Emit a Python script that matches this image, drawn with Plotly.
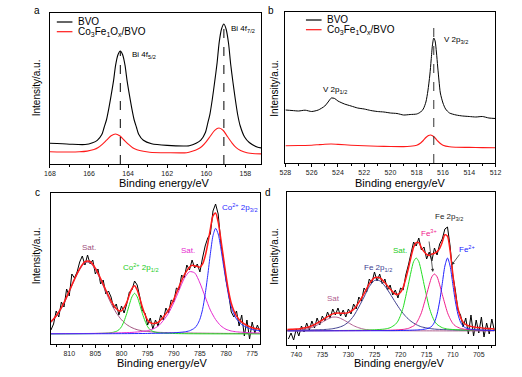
import plotly.graph_objects as go

FONT = "Liberation Sans, Arial, sans-serif"
W, H = 522, 377

# ---------------- Panel a : Bi 4f ----------------
a_bvo_x = [168.0, 167.0, 166.2, 165.82, 165.58, 165.34, 165.23, 165.11, 164.99, 164.87, 164.75, 164.64,
           164.52, 164.4, 164.28, 164.16, 164.05, 163.93, 163.81, 163.69, 163.57, 163.46, 163.22, 162.8,
           162.0, 161.0, 160.87, 160.52, 160.28, 160.04, 159.93, 159.81, 159.69, 159.57, 159.45, 159.34,
           159.22, 159.1, 158.98, 158.86, 158.75, 158.63, 158.51, 158.39, 158.27, 158.04, 157.8, 157.4,
           157.0]
a_bvo_y = [20.7, 19.8, 19.5, 21.3, 23.7, 29.8, 36.5, 44.0, 55.4, 68.6, 82.8, 98.8,
           109.2, 113.0, 109.2, 98.8, 82.8, 68.6, 55.4, 44.0, 36.5, 29.8, 23.7, 20.3,
           18.6, 18.0, 18.2, 20.7, 23.8, 31.8, 40.4, 50.2, 65.0, 82.2, 100.6, 121.6,
           135.0, 140.0, 134.5, 120.5, 99.5, 81.0, 64.0, 49.0, 38.5, 27.0, 21.5, 17.0,
           15.5]
a_cfo_x = [168.0, 167.0, 166.5, 166.1, 165.75, 165.53, 165.31, 165.09, 164.87, 164.65, 164.43, 164.21,
           163.99, 163.77, 163.55, 163.22, 162.9, 162.0, 161.0, 160.72, 160.45, 160.23, 160.01, 159.79,
           159.57, 159.35, 159.13, 158.91, 158.69, 158.47, 158.25, 157.92, 157.5, 157.0]
a_cfo_y = [12.3, 12.0, 12.2, 12.9, 14.5, 16.5, 19.9, 24.1, 28.2, 30.0, 28.2, 24.0,
           19.8, 16.3, 14.3, 12.7, 11.8, 11.3, 11.3, 12.7, 14.7, 17.5, 22.2, 28.0,
           33.7, 36.0, 33.5, 27.2, 21.2, 16.3, 13.5, 11.2, 10.3, 10.1]
a_ref_x = [164.4, 159.1]
a_ref_top = [113.0, 141.0]

# ---------------- Panel b : V 2p ----------------
b_bvo_x = [528.0, 527.5, 527.0, 526.5, 526.0, 525.5, 525.0, 524.75, 524.5, 524.25, 524.0, 523.5, 523.0,
           522.5, 522.0, 521.5, 521.0, 520.5, 520.0, 519.5, 519.0, 518.5, 518.0, 517.7, 517.5, 517.3,
           517.15, 517.0, 516.9, 516.8, 516.7, 516.6, 516.5, 516.4, 516.3, 516.2, 516.0, 515.8, 515.5,
           515.0, 514.5, 514.0, 513.5, 513.0, 512.5, 512.0]
b_bvo_y = [53, 52.5, 52, 52.8, 51.5, 53, 57, 61, 65, 64.5, 62, 59, 57,
           55, 54, 52.5, 51.5, 51, 50, 49.5, 48, 48.5, 49, 51, 54, 61,
           72, 88, 103, 118, 125, 122, 111, 96, 82, 70, 60, 54, 50,
           48, 47, 46.5, 46, 46.5, 45, 44.5]
b_cfo_x = [528, 527, 526, 525.5, 525, 524.5, 524, 523, 522, 521, 520, 519, 518.5, 518.0, 517.7,
           517.5, 517.3, 517.1, 516.95, 516.8, 516.6, 516.4, 516.2, 516.0, 515.5, 515, 514, 513, 512]
b_cfo_y = [17.3, 17.5, 17.8, 18.3, 18.8, 19, 18.6, 17.8, 17.2, 16.8, 16.5, 16.4, 16.8, 17.8, 20,
           22.5, 25.5, 27.5, 28, 27.3, 25, 22, 19.5, 17.8, 16.2, 15.8, 15.6, 15.4, 15.3]
b_ref_x = [516.7]
b_ref_top = [135.0]

# ---------------- Panel c : Co 2p ----------------
c_raw_x = [813.5, 813.0, 812.5, 812.0, 811.5, 811.0, 810.5, 810.0, 809.5, 809.0, 808.5, 808.0, 807.5,
           807.0, 806.5, 806.0, 805.5, 805.0, 804.5, 804.0, 803.5, 803.0, 802.5, 802.0, 801.5, 801.0,
           800.5, 800.0, 799.5, 799.0, 798.5, 798.0, 797.5, 797.0, 796.5, 796.0, 795.5, 795.0, 794.5,
           794.0, 793.5, 793.0, 792.5, 792.0, 791.5, 791.0, 790.5, 790.0, 789.5, 789.0, 788.5, 788.0,
           787.5, 787.0, 786.5, 786.0, 785.5, 785.0, 784.5, 784.0, 783.5, 783.0, 782.5, 782.0, 781.5,
           781.0, 780.5, 780.0, 779.5, 779.0, 778.5, 778.0, 777.5, 777.0, 776.5, 776.0, 775.5, 775.0,
           774.5, 774.0, 773.5]
c_raw_y = [14, 20, 33, 27, 42, 37, 55, 48, 70, 66, 72, 82, 88,
           79, 89, 80, 84, 70, 75, 60, 64, 50, 53, 47, 36, 40,
           29, 38, 31, 40, 52, 54, 63, 59, 47, 33, 31, 19, 26,
           15, 24, 18, 29, 24, 36, 31, 44, 42, 56, 54, 69, 66,
           79, 74, 84, 76, 80, 72, 86, 98, 106, 110, 133, 140, 130,
           101, 84, 64, 50, 32, 27, 33, 18, 29, 8, 24, 5, 22,
           11, 19, 12]
c_sat1_x = [814, 813, 812, 811, 810, 809, 808, 807, 806, 805, 804, 803, 802, 801, 800, 799, 798, 797,
            796, 795, 794, 793, 792, 791, 790, 789, 788, 787, 786, 785, 784, 783, 782, 781, 780, 779,
            778, 777, 776, 775, 774, 773]
c_sat1_y = [19.4, 24.2, 31.2, 40.6, 52.1, 64.0, 74.4, 81.3, 81.3, 74.4, 64.0, 52.1, 40.6, 31.2, 24.2,
            19.4, 16.3, 14.3, 13.2, 12.5, 12.1, 11.7, 11.5, 11.35, 11.25, 11.15, 11.05, 11.0, 10.9,
            10.85, 10.8, 10.75, 10.7, 10.65, 10.6, 10.58, 10.55, 10.52, 10.5, 10.48, 10.45, 10.43]
c_p12_x = [814, 806, 803, 802, 801, 800.5, 800, 799.5, 799, 798.5, 798, 797.5, 797, 796.5, 796,
           795.5, 795, 794.5, 794, 793, 792, 788, 773]
c_p12_y = [10.1, 10.4, 10.85, 11.3, 12.6, 14.2, 17.3, 23.0, 30.4, 39.3, 47.2, 50.7, 47.2, 39.3, 30.4,
           23.0, 17.3, 14.2, 12.6, 11.3, 10.85, 10.3, 10.1]
c_sat2_x = [814, 810, 806, 803, 800, 798, 796, 795, 794, 793, 792, 791, 790, 789, 788, 787, 786, 785,
            784, 783, 782, 781, 780, 779, 778, 777, 776, 775, 774, 773]
c_sat2_y = [10.3, 10.4, 10.55, 10.8, 11.2, 11.6, 12.5, 13.4, 15.0, 17.8, 23.5, 30.8, 41.3, 53.5, 65.5,
            72.3, 71.1, 61.0, 47.2, 33.9, 24.5, 18.2, 14.7, 13.0, 12.2, 11.75, 11.45, 11.25, 11.1, 11.0]
c_p32_x = [814, 805, 800, 795, 792, 790, 788, 787, 786, 785.5, 785, 784.5, 784, 783.5, 783, 782.5,
           782, 781.5, 781, 780.5, 780, 779.5, 779, 778.5, 778, 777, 776, 775, 774, 773]
c_p32_y = [10.15, 10.25, 10.35, 10.55, 10.85, 11.2, 12.1, 13.2, 16.0, 19.3, 24.8, 34.3, 49.6, 68.7,
           90.3, 108.3, 115.7, 110.0, 96.0, 79.0, 63.0, 48.0, 37.0, 30.0, 25.0, 19.5, 16.5, 14.5,
           13.5, 13.0]
c_fit_x = [814, 813, 812, 811, 810, 809, 808, 807, 806, 805, 804, 803, 802, 801, 800.5, 800, 799.5,
           799, 798.5, 798, 797.5, 797, 796.5, 796, 795.5, 795, 794.5, 794, 793, 792, 791, 790, 789,
           788, 787, 786.5, 786, 785.5, 785, 784.5, 784, 783.5, 783, 782.5, 782, 781.5, 781, 780.5,
           780, 779.5, 779, 778.5, 778, 777, 776, 775, 774, 773]
c_fit_y = [20.0, 24.9, 32.0, 41.4, 53.0, 64.9, 75.4, 82.3, 82.5, 75.8, 65.5, 54.0, 43.1, 35.2, 33.3,
           33.1, 36.5, 41.6, 49.0, 55.5, 58.3, 54.0, 45.8, 36.7, 29.3, 23.9, 21.3, 20.5, 21.7, 27.0,
           34.1, 44.8, 57.3, 69.0, 76.8, 78.7, 78.3, 77.4, 76.9, 79.8, 87.8, 100.0, 115.2, 128.2,
           131.1, 121.8, 105.0, 86.6, 68.4, 52.5, 40.7, 33.2, 27.9, 21.9, 18.6, 16.3, 15.2, 14.5]

# ---------------- Panel d : Fe 2p ----------------
d_raw_x = [741.5, 741.0, 740.5, 740.0, 739.5, 739.0, 738.5, 738.0, 737.5, 737.0, 736.5, 736.0, 735.5,
           735.0, 734.5, 734.0, 733.5, 733.0, 732.5, 732.0, 731.5, 731.0, 730.5, 730.0, 729.5, 729.0,
           728.5, 728.0, 727.5, 727.0, 726.5, 726.0, 725.5, 725.0, 724.5, 724.0, 723.5, 723.0, 722.5,
           722.0, 721.5, 721.0, 720.5, 720.0, 719.5, 719.0, 718.5, 718.0, 717.5, 717.0, 716.5, 716.0,
           715.5, 715.0, 714.5, 714.0, 713.5, 713.0, 712.5, 712.0, 711.5, 711.0, 710.5, 710.0, 709.5,
           709.0, 708.5, 708.0, 707.5, 707.0, 706.5, 706.0, 705.5, 705.0, 704.5, 704.0, 703.5, 703.0,
           702.5, 702.0]
d_raw_y = [6, 12, 5, 16, 9, 19, 13, 22, 15, 24, 17, 27, 20,
           29, 24, 33, 27, 36, 30, 37, 29, 35, 28, 36, 31, 41,
           36, 48, 44, 57, 53, 66, 62, 73, 64, 71, 61, 66, 55,
           60, 50, 55, 47, 57, 55, 70, 80, 92, 103, 99, 107, 95,
           98, 86, 93, 84, 97, 90, 101, 106, 116, 118, 99, 70, 55,
           35, 30, 18, 27, 11, 30, 9, 25, 12, 28, 8, 22, 11,
           26, 14]
d_sat_x = [742, 741, 740, 739, 738, 737, 736, 735, 734, 733, 732, 731, 730, 729, 728, 727, 726, 725,
           724, 723, 722, 720, 715, 710, 702]
d_sat_y = [14.4, 14.5, 14.7, 15.2, 16.0, 17.5, 19.9, 22.8, 25.8, 27.9, 27.6, 25.3, 22.3, 19.3, 17.2,
           15.8, 15.05, 14.67, 14.5, 14.4, 14.33, 14.25, 14.15, 14.1, 14.07]
d_p12_x = [742, 740, 738, 736, 735, 734, 733, 732, 731, 730, 729, 728, 727, 726, 725, 724, 723, 722,
           721, 720, 719, 718, 717, 716, 715, 714, 713, 712, 711, 710, 708, 706, 704, 702]
d_p12_y = [14.6, 14.7, 14.9, 15.2, 15.4, 15.7, 16.3, 17.4, 19.3, 22.9, 29.0, 38.0, 48.0, 58.4, 64.5,
           64.2, 58.9, 51.2, 42.8, 34.9, 28.5, 23.7, 20.4, 18.2, 17.1, 16.2, 15.7, 15.5, 15.3, 15.1,
           14.87, 14.7, 14.6, 14.5]
d_sat2_x = [742, 732, 727, 725, 723, 722, 721, 720.5, 720, 719.5, 719, 718.5, 718, 717.5, 717, 716.5,
            716, 715.5, 715, 714.5, 714, 713.5, 713, 712, 711, 709, 702]
d_sat2_y = [14.25, 14.5, 14.8, 15.2, 16.0, 17.3, 20.6, 23.9, 29.7, 37.4, 48.7, 60.7, 73.1, 83.4, 87.0,
            83.4, 73.1, 60.7, 48.7, 37.4, 29.7, 23.9, 20.6, 17.3, 16.0, 15.2, 14.5]
d_fe3_x = [742, 738, 728, 723.5, 721.5, 719.5, 718.5, 718, 717.5, 717, 716.5, 716, 715.5, 715, 714.5,
           714, 713.5, 713, 712.5, 712, 711.5, 711, 710.5, 710, 709.5, 708.5, 707.5, 705.5, 703.5, 702]
d_fe3_y = [14.15, 14.2, 14.4, 14.6, 14.9, 15.6, 16.6, 17.8, 19.1, 21.7, 26.3, 32.3, 41.1, 50.5, 60.2,
           68.2, 71.0, 68.2, 60.2, 50.5, 41.1, 32.3, 26.3, 21.7, 19.1, 16.6, 15.6, 14.9, 14.6, 14.5]
d_fe2_x = [742, 731, 721, 717, 716, 715, 714.5, 714, 713.5, 713, 712.5, 712, 711.5, 711, 710.5, 710,
           709.5, 709, 708.5, 708, 707.5, 707, 706, 704, 702]
d_fe2_y = [14.1, 14.2, 14.4, 15.0, 15.4, 16.2, 17.1, 18.8, 22.8, 30.8, 43.9, 61.5, 79.0, 87.0, 79.0,
           61.5, 43.9, 30.8, 22.8, 18.8, 17.1, 16.2, 15.4, 14.8, 14.5]
d_fit_x = [742, 741, 740, 739, 738, 737, 736, 735, 734, 733, 732, 731, 730, 729, 728, 727, 726, 725,
           724, 723, 722, 721, 720.5, 720, 719.5, 719, 718.5, 718, 717.5, 717, 716.5, 716, 715.5, 715,
           714.5, 714, 713.5, 713, 712.5, 712, 711.5, 711, 710.5, 710, 709.5, 709, 708.5, 708, 707.5,
           707, 706.5, 706, 705.5, 705, 704, 703, 702]
d_fit_y = [15.5, 15.7, 15.9, 16.6, 17.5, 19.2, 21.8, 25.0, 28.3, 31.1, 32.0, 31.7, 32.4, 35.6, 42.6,
           51.4, 61.2, 67.3, 67.2, 62.3, 56.0, 51.0, 50.7, 52.8, 57.6, 66.3, 76.5, 87.8, 97.9, 102.3,
           102.4, 97.2, 93.4, 90.7, 89.4, 91.0, 91.7, 93.4, 96.7, 102.9, 110.2, 108.7, 94.3, 71.9,
           51.5, 36.9, 27.6, 22.9, 20.5, 19.3, 18.6, 17.9, 17.6, 17.4, 16.8, 16.4, 16.1]

for xs, ys in [(a_bvo_x, a_bvo_y), (a_cfo_x, a_cfo_y), (b_bvo_x, b_bvo_y), (b_cfo_x, b_cfo_y),
               (c_raw_x, c_raw_y), (c_sat1_x, c_sat1_y), (c_p12_x, c_p12_y), (c_sat2_x, c_sat2_y),
               (c_p32_x, c_p32_y), (c_fit_x, c_fit_y), (d_raw_x, d_raw_y), (d_sat_x, d_sat_y),
               (d_p12_x, d_p12_y), (d_sat2_x, d_sat2_y), (d_fe3_x, d_fe3_y), (d_fe2_x, d_fe2_y),
               (d_fit_x, d_fit_y)]:
    assert len(xs) == len(ys), (len(xs), len(ys))

RED = "#FF1A1A"
fig = go.Figure()


def line(x, y, color, width, ax, shape="spline", dash=None):
    fig.add_trace(go.Scatter(
        x=x, y=y, mode="lines",
        line=dict(color=color, width=width, shape=shape, dash=dash,
                  **({"smoothing": 0.7} if shape == "spline" else {})),
        xaxis="x" + ax, yaxis="y" + ax, showlegend=False, hoverinfo="skip"))


# panel a
line(a_bvo_x, a_bvo_y, "black", 1.1, "")
line(a_cfo_x, a_cfo_y, RED, 1.1, "")
for xv, top in zip(a_ref_x, a_ref_top):
    line([xv, xv], [0, top], "black", 1, "", shape="linear", dash="dash")
# panel b
line(b_bvo_x, b_bvo_y, "black", 1.0, "2")
line(b_cfo_x, b_cfo_y, RED, 1.1, "2")
for xv, top in zip(b_ref_x, b_ref_top):
    line([xv, xv], [0, top], "#333333", 1, "2", shape="linear", dash="dash")
# panel c
line(c_raw_x, c_raw_y, "black", 1.0, "3", shape="linear")
line(c_sat1_x, c_sat1_y, "#A0507D", 1.0, "3")
line(c_p12_x, c_p12_y, "#22DD22", 1.0, "3")
line(c_sat2_x, c_sat2_y, "#E62AD0", 1.0, "3")
line(c_p32_x, c_p32_y, "#2B2BFF", 1.0, "3")
line(c_fit_x, c_fit_y, RED, 1.5, "3")
# panel d
line(d_raw_x, d_raw_y, "black", 1.0, "4", shape="linear")
line(d_sat_x, d_sat_y, "#B0608F", 1.0, "4")
line(d_p12_x, d_p12_y, "#40408F", 1.0, "4")
line(d_sat2_x, d_sat2_y, "#22DD22", 1.0, "4")
line(d_fe3_x, d_fe3_y, "#F0208C", 1.0, "4")
line(d_fe2_x, d_fe2_y, "#2020FF", 1.0, "4")
line(d_fit_x, d_fit_y, RED, 1.5, "4")


def xdom(l, r):
    return [l / W, r / W]


def ydom(t, b):
    return [1 - b / H, 1 - t / H]


def xaxis(dom, rng, dtick, anchor):
    return dict(domain=dom, range=rng, dtick=dtick, anchor=anchor, showline=True, mirror=True,
                linecolor="black", linewidth=1, ticks="outside", ticklen=3, tickwidth=1,
                tickcolor="black", showgrid=False, zeroline=False,
                minor=dict(ticks="outside", ticklen=2, dtick=dtick / 2, tickcolor="black"),
                tickfont=dict(size=7, color="#222", family=FONT))


def yaxis(dom, rng, anchor):
    return dict(domain=dom, range=rng, anchor=anchor, showline=True, mirror=True, linecolor="black",
                linewidth=1, ticks="", showticklabels=False, showgrid=False, zeroline=False)


anns = []


def ann(text, x, y, size=8, color="black", xanchor="center", angle=0):
    anns.append(dict(text=text, x=x / W, y=1 - y / H, xref="paper", yref="paper", showarrow=False,
                     xanchor=xanchor, yanchor="middle", textangle=angle,
                     font=dict(size=size, color=color, family=FONT)))


# panel letters
ann("a", 32, 10, 10)
ann("b", 271, 10, 10)
ann("c", 32, 192, 10)
ann("d", 268, 192, 10)
# axis titles
for (xx, yy) in [(162, 183), (404, 183), (160, 363), (403, 363)]:
    ann("Binding energy/eV", xx, yy, 11)
for (xx, yy) in [(31, 88), (274, 88), (31, 256), (274, 256)]:
    ann("Intensity/a.u.", xx, yy, 10, angle=-90)
# peak labels
ann("Bi 4f<sub>5/2</sub>", 127, 55, 8, xanchor="left")
ann("Bi 4f<sub>7/2</sub>", 228, 29, 8, xanchor="left")
ann("V 2p<sub>1/2</sub>", 337, 90, 8)
ann("V 2p<sub>3/2</sub>", 446, 40, 8, xanchor="left")
ann("Sat.", 85, 247, 8, "#A0507D")
ann("Co<sup>2+</sup> 2p<sub>1/2</sub>", 138, 267, 8, "#22CC22")
ann("Sat.", 186, 250, 8, "#E62AD0")
ann("Co<sup>2+</sup> 2p<sub>3/2</sub>", 240, 207, 8, "#2B2BFF")
ann("Sat", 335, 298, 8, "#B0608F")
ann("Fe 2p<sub>1/2</sub>", 381, 268, 8, "#40408F")
ann("Sat.", 403, 250, 8, "#22CC22")
ann("Fe<sup>3+</sup>", 433, 233, 8, "#F0208C")
ann("Fe 2p<sub>3/2</sub>", 453, 217, 8, "#222222")
ann("Fe<sup>2+</sup>", 472, 249, 8, "#2020FF")
# legends
leg_labels = ["BVO", "Co<sub>3</sub>Fe<sub>1</sub>O<sub>x</sub>/BVO"]
leg_colors = ["black", RED]
shapes = []
for (lx, ly) in [(52, 22), (307, 20)]:
    for i, (lab, col) in enumerate(zip(leg_labels, leg_colors)):
        yy = ly + i * 9.7
        ann(lab, lx + 20, yy, 10, xanchor="left")
        shapes.append(dict(type="line", xref="paper", yref="paper", x0=lx / W, x1=(lx + 16) / W,
                           y0=1 - yy / H, y1=1 - yy / H, line=dict(color=col, width=1.2)))
# arrows in panel d
for (tx, ty, axo, ayo) in [(713.8, 73, -4, -32), (710.2, 80, 9, -12)]:
    anns.append(dict(x=tx, y=ty, xref="x4", yref="y4", text="", showarrow=True, ax=axo, ay=ayo,
                     arrowhead=2, arrowsize=0.8, arrowwidth=0.8, arrowcolor="#333"))

fig.update_layout(
    width=W, height=H, autosize=False, margin=dict(l=0, r=0, t=0, b=0),
    paper_bgcolor="white", plot_bgcolor="white", showlegend=False,
    font=dict(family=FONT, color="black"),
    xaxis=xaxis(xdom(45, 261), [168, 157.2], 2, "y"),
    yaxis=yaxis(ydom(13, 164), [0, 151], "x"),
    xaxis2=xaxis(xdom(286, 501), [528, 512], 2, "y2"),
    yaxis2=yaxis(ydom(12, 163), [0, 151], "x2"),
    xaxis3=xaxis(xdom(46, 260), [813.5, 773.5], 5, "y3"),
    yaxis3=yaxis(ydom(193, 344), [0, 151], "x3"),
    xaxis4=xaxis(xdom(288, 501), [741.7, 701.8], 5, "y4"),
    yaxis4=yaxis(ydom(192, 345), [0, 153], "x4"),
    annotations=anns, shapes=shapes,
)

fig.write_html("out.html", config={"displayModeBar": False, "staticPlot": True},
               post_script="document.body.style.margin='0';document.body.style.overflow='hidden';")
